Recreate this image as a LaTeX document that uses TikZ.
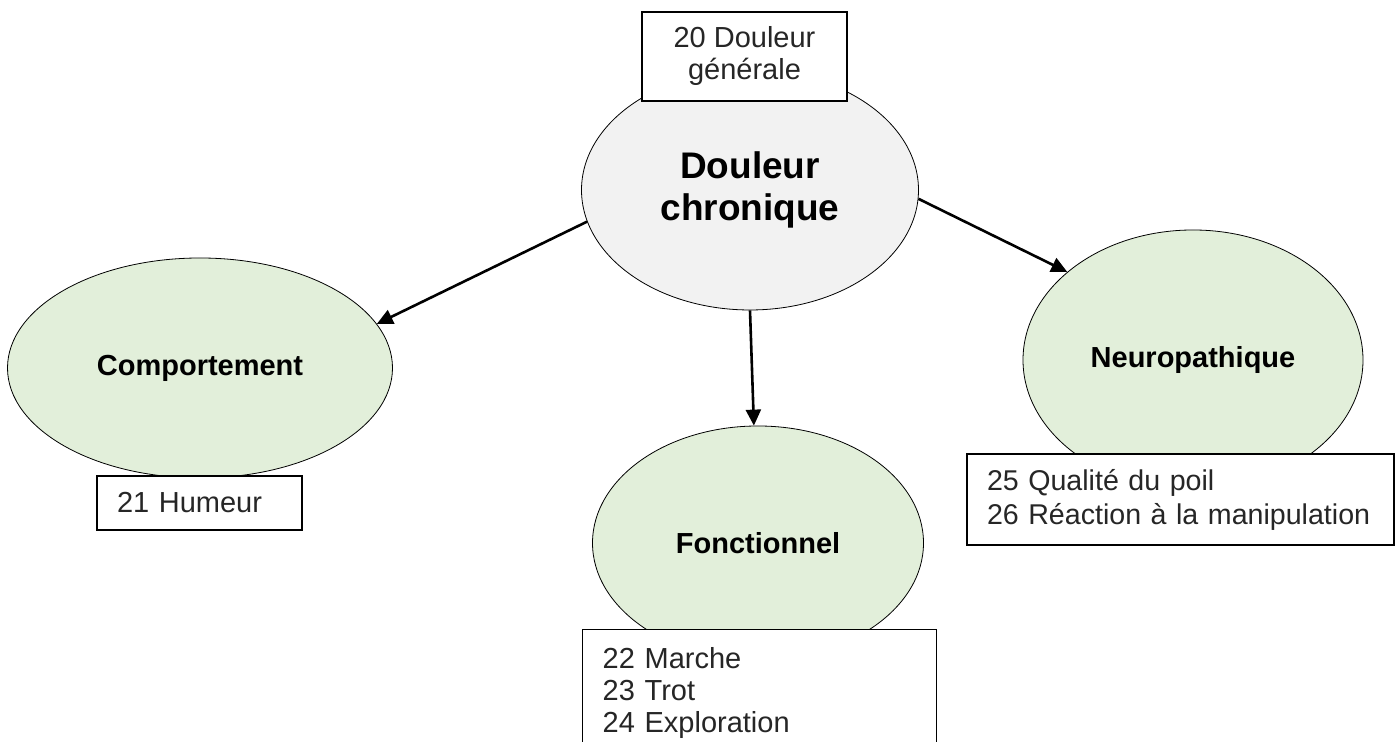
\documentclass[tikz,border=0pt]{standalone}
\usepackage{fontspec}
\setmainfont{Liberation Sans}
\usetikzlibrary{shapes.geometric,arrows.meta}
\definecolor{grisclair}{HTML}{F2F2F2}
\definecolor{vertclair}{HTML}{E2EFDA}

\begin{document}
\begin{tikzpicture}[x=0.5pt,y=0.5pt,
		bulle/.style={ellipse,draw,line width=0.4pt,fill=vertclair,inner sep=0pt,
			font=\bfseries\fontsize{14.5}{16}\selectfont},
		cadre/.style={rectangle,draw,line width=0.7pt,fill=white,inner xsep=10pt,
			align=left,text=black!85,font=\fontsize{14.5}{16}\selectfont},
		fleche/.style={-{Triangle[length=8pt,width=7.5pt]},line width=1.3pt}]
		\useasboundingbox (0,0) rectangle (1398,742);

		% ellipses
		\node[bulle,fill=grisclair,minimum width=168.5pt,minimum height=120pt,align=center,
			font=\bfseries\fontsize{18.5}{21}\selectfont] (chron) at (750,552) {Douleur\\chronique};
		\node[bulle,minimum width=192.5pt,minimum height=110pt] (comp) at (200,374) {Comportement};
		\node[bulle,minimum width=165.5pt,minimum height=117pt] (fonc) at (758,199) {Fonctionnel};
		\node[bulle,minimum width=170pt,minimum height=130pt] (neuro) at (1193,382) {Neuropathique};

		% cadres
		\node[cadre,align=center,minimum width=102.5pt,minimum height=44.5pt,inner xsep=2pt] (gen) at (744.5,685.5) {20 Douleur\\générale};
		\node[cadre,text width=82.5pt,minimum height=27pt] (hum) at (199.5,239) {21 Humeur};
		\node[cadre,text width=193.5pt,minimum height=45.5pt,font=\fontsize{14.3}{17}\selectfont] (qual) at (1180.5,242.5) {25 Qualité du poil\\26 Réaction à la manipulation};
		\node[cadre,text width=157pt,inner ysep=9pt,anchor=north west,font=\fontsize{14.5}{16}\selectfont] (march) at (582,113) {22 Marche\\23 Trot\\24 Exploration};

		% fleches
		\draw[fleche] (chron.191) -- (comp.14);
		\draw[fleche] (chron.270) -- (fonc.92);
		\draw[fleche] (chron.357) -- (neuro.145);
\end{tikzpicture}
\end{document}
